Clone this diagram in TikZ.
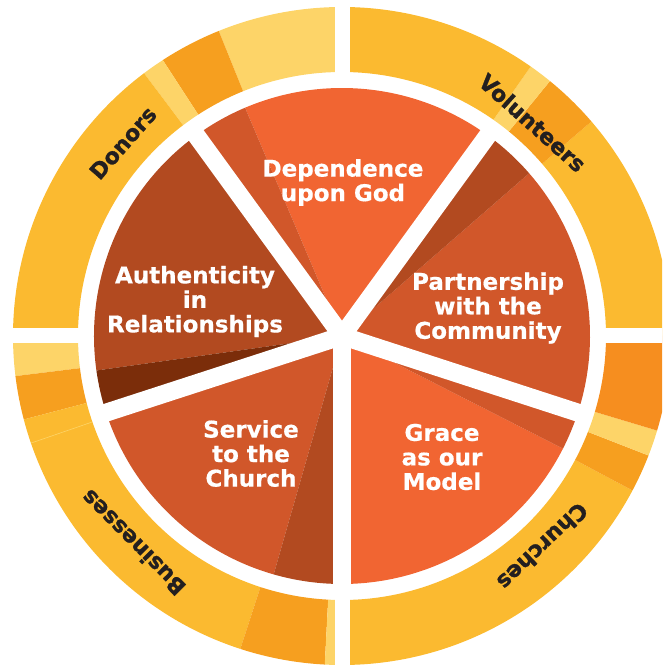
\documentclass[tikz,border=0pt]{standalone}
\usepackage{fontspec}
\setmainfont{DejaVu Sans}
\newfontfamily\heavyfont{DejaVu Sans Bold}[FakeBold=1.2]
\newfontfamily\slicefont{DejaVu Sans Bold}[FakeBold=0.6]
\usetikzlibrary{calc}

\definecolor{ringyellow}{HTML}{FBBA30}
\definecolor{ringlight}{HTML}{FDD468}
\definecolor{ringorange}{HTML}{F69F1F}
\definecolor{ringdeep}{HTML}{F68E1F}
\definecolor{pieorange}{HTML}{F16532}
\definecolor{piemid}{HTML}{D1572A}
\definecolor{piedark}{HTML}{B24A20}
\definecolor{piedeep}{HTML}{7B2D0A}
\definecolor{labelink}{HTML}{231F20}

\begin{document}
\begin{tikzpicture}[x=1pt, y=1pt,
    value/.style={text=white, font=\slicefont\fontsize{23}{24.5}\selectfont, align=center},
    partner/.style={text=labelink, font=\heavyfont\fontsize{22}{22}\selectfont}]

    % Fix the frame first
    \useasboundingbox (-342,-330) rectangle (320,336);
    \clip (-342,-330) rectangle (320,336);
    \coordinate (C) at (0,0);

    % Outer ring, one band at a time
    \foreach \a/\b/\c in {0/40.7/ringyellow, 40.7/50.8/ringorange, 50.8/55/ringlight, 55/90/ringyellow,
                          90/112/ringlight, 112/123/ringorange, 123/127/ringlight, 127/180/ringyellow,
                          180/187/ringlight, 187/194.7/ringorange, 194.7/252/ringyellow, 252/267/ringorange, 267/270/ringlight,
                          270/332/ringyellow, 332/338.7/ringorange, 338.7/343.3/ringlight, 343.3/360/ringdeep}
      \fill[fill=\c] (\a:329) arc[start angle=\a, end angle=\b, radius=329]
        -- (\b:264) arc[start angle=\b, end angle=\a, radius=264] -- cycle;
    \draw[ringlight, line width=0.6] (199:264) -- (199:329);

    % Cut the ring into four quarters
    \foreach \t in {0, 90, 180, 270}
      \draw[white, line width=15] (\t:255) -- (\t:340);

    % Now the pie, each slice with its darker edge
    \foreach \a/\b/\c in {-18/41/piemid, 41/54/piedark,
                          54/113/pieorange, 113/126/piemid,
                          126/188/piedark, 188/198/piedeep,
                          198/254/piemid, 254/270/piedark,
                          270/333/pieorange, 333/342/piemid}
      \fill[fill=\c] (C) -- (\a:248) arc[start angle=\a, end angle=\b, radius=248] -- cycle;

    % White gaps between the slices
    \foreach \t in {54, 126, 198, 270, 342}
      \draw[white, line width=18] (C) -- (\t:255);

    % Slice labels
    \node[value] (dependence) at (1,153.5) {Dependence\\upon God};
    \node[value] (partnership) at (146,28) {Partnership\\with the\\Community};
    \node[value] (grace) at (100,-121) {Grace\\as our\\Model};
    \node[value] (service) at (-91,-117.5) {Service\\to the\\Church};
    \node[value] (authenticity) at (-147,34.5) {Authenticity\\in\\Relationships};

    % Ring labels, turned along the ring
    \node[partner, rotate=48.6] (donors) at (138.6:292) {Donors};
    \node[partner, rotate=-41.8] (volunteers) at (48.2:286) {Volunteers};
    \node[partner, rotate=-136.4] (churches) at (-46.4:291) {Churches};
    \node[partner, rotate=134.7] (businesses) at (224.7:294) {Businesses};
\end{tikzpicture}
\end{document}
